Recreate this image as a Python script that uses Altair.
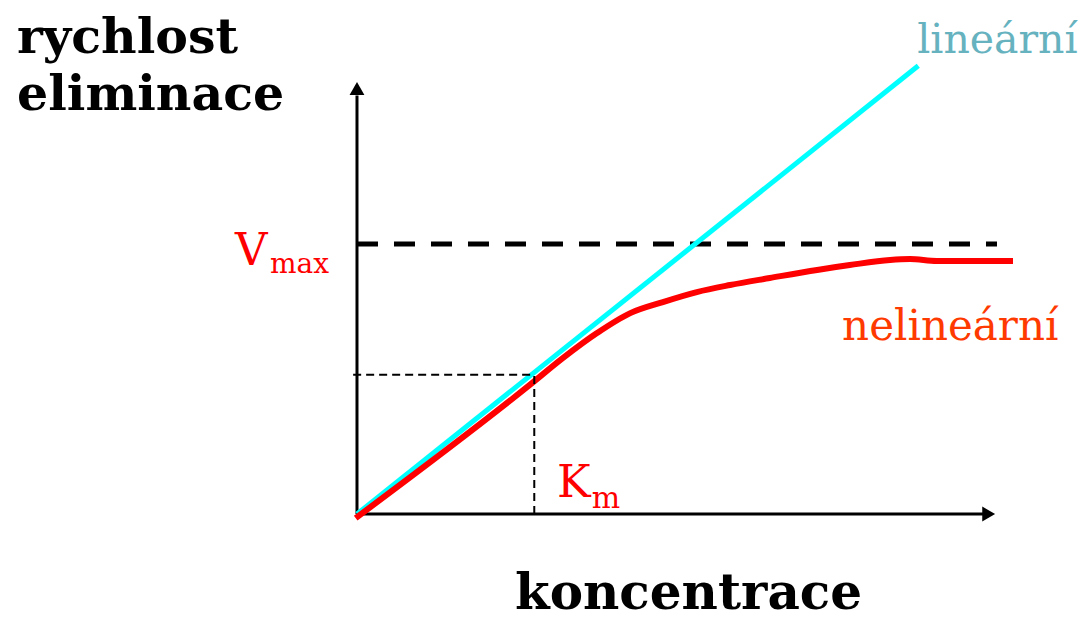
import altair as alt
import pandas as pd

# ---- data (arbitrary units) ----
red_x = [-0.02, 2.70, 3.22, 3.75, 4.27, 4.78, 5.31, 5.83, 6.45, 7.19, 7.70, 8.33, 8.64, 9.06, 10.25]
red_y = [-0.15, 4.78, 5.78, 6.70, 7.44, 7.85, 8.22, 8.48, 8.74, 9.04, 9.22, 9.41, 9.44, 9.37, 9.37]
lin_x = [0.0, 8.77]
lin_y = [0.0, 16.6]
vmax = 10.0
vmax_end = 10.0
km_x = 2.77
km_y = 5.16
x_axis_end = 9.8
y_axis_end = 15.5
x_arrow = 9.87
y_arrow = 15.76

labels_text = ["rychlost", "eliminace", "koncentrace"]
FONT = "DejaVu Serif"

X_DOM = [-5.453, 11.297]
Y_DOM = [-4.0, 18.741]
xs = alt.Scale(domain=X_DOM, nice=False, zero=False)
ys = alt.Scale(domain=Y_DOM, nice=False, zero=False)


def X(f="x"):
    return alt.X(f"{f}:Q", scale=xs, axis=None)


def Y(f="y"):
    return alt.Y(f"{f}:Q", scale=ys, axis=None)


# axes
axes_df = pd.DataFrame({"x": [0.0, 0.0], "x2": [x_axis_end, 0.0],
                        "y": [0.0, 0.0], "y2": [0.0, y_axis_end]})
axes = alt.Chart(axes_df).mark_rule(color="black", strokeWidth=3).encode(
    x=X(), x2="x2:Q", y=Y(), y2="y2:Q")

arrow_r = alt.Chart(pd.DataFrame({"x": [x_arrow], "y": [0.0]})).mark_point(
    shape="triangle-right", filled=True, color="black", opacity=1, size=220
).encode(x=X(), y=Y())
arrow_u = alt.Chart(pd.DataFrame({"x": [0.0], "y": [y_arrow]})).mark_point(
    shape="triangle-up", filled=True, color="black", opacity=1, size=220
).encode(x=X(), y=Y())

# Vmax dashed line
vmax_line = alt.Chart(pd.DataFrame({"x": [0.0], "x2": [vmax_end], "y": [vmax]})).mark_rule(
    color="black", strokeWidth=5, strokeDash=[21, 16]
).encode(x=X(), x2="x2:Q", y=Y())

# Km guides
km_h = alt.Chart(pd.DataFrame({"x": [-0.06], "x2": [km_x], "y": [km_y]})).mark_rule(
    color="black", strokeWidth=2, strokeDash=[8, 5]
).encode(x=X(), x2="x2:Q", y=Y())
km_v = alt.Chart(pd.DataFrame({"x": [km_x], "y": [0.0], "y2": [km_y]})).mark_rule(
    color="black", strokeWidth=2, strokeDash=[8, 5]
).encode(x=X(), y=Y(), y2="y2:Q")

# lines
lin = alt.Chart(pd.DataFrame({"x": lin_x, "y": lin_y})).mark_line(
    color="#00ffff", strokeWidth=5
).encode(x=X(), y=Y())
red = alt.Chart(pd.DataFrame({"x": red_x, "y": red_y, "o": list(range(len(red_x)))})).mark_line(
    color="#ff0000", strokeWidth=6, interpolate="monotone"
).encode(x=X(), y=Y(), order="o:Q")


def txt(t, x, y, size, color, weight="normal", align="left"):
    return alt.Chart(pd.DataFrame({"x": [x], "y": [y], "t": [t]})).mark_text(
        font=FONT, fontSize=size, fontWeight=weight, color=color,
        align=align, baseline="alphabetic"
    ).encode(x=X(), y=Y(), text="t:N")


texts = [
    txt(labels_text[0], -5.3125, 17.07, 49, "black", "bold"),
    txt(labels_text[1], -5.3125, 14.96, 49, "black", "bold"),
    txt(labels_text[2], 5.18, -3.52, 50, "black", "bold", "center"),
    txt("lineární", 11.26, 17.07, 41, "#66b2bf", align="right"),
    txt("nelineární", 7.58, 6.44, 42, "#ff3a00"),
    txt("V", -1.906, 9.22, 45, "#ff0000"),
    txt("max", -1.36, 8.93, 28, "#ff0000"),
    txt("K", 3.125, 0.63, 45, "#ff0000"),
    txt("m", 3.67, 0.22, 30, "#ff0000"),
]

chart = alt.layer(axes, arrow_r, arrow_u, vmax_line, lin, red, km_h, km_v, *texts).properties(
    width=1072, height=614,
    autosize=alt.AutoSizeParams(type="none"),
    padding=0,
).configure_view(stroke=None)

chart.save("out.html", embed_options={"renderer": "svg", "actions": False})
